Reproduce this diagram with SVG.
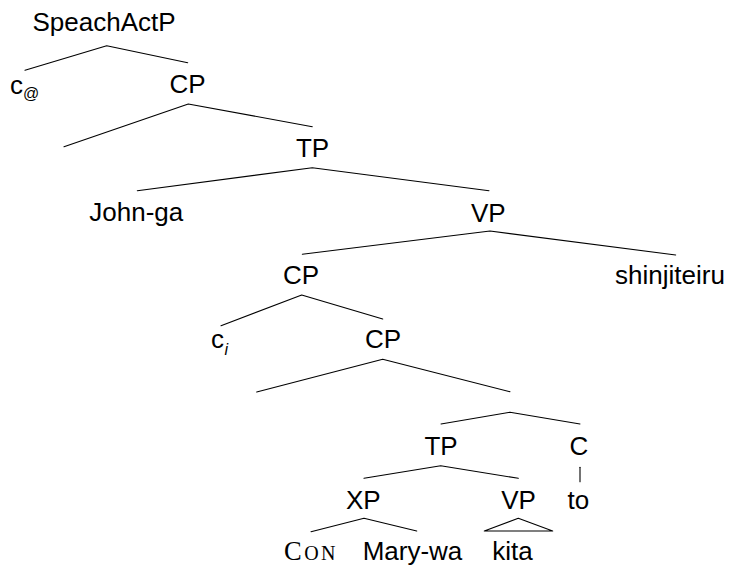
<svg xmlns="http://www.w3.org/2000/svg" width="737" height="566" viewBox="0 0 737 566">
<style>
.t{font-family:"Liberation Sans",Arial,sans-serif;font-size:26px;fill:#000;text-anchor:middle}
.s{text-anchor:start}
.sub{font-size:16px}
.e{stroke:#000;stroke-width:1.1;fill:none;stroke-linecap:round;stroke-linejoin:round}
.sc{font-family:"Liberation Serif","Times New Roman",serif;fill:#000;text-anchor:middle}
</style>
<rect width="737" height="566" fill="#fff"/>
<g id="edges" class="e">
<path d="M106.7 45.7L25 70.3M106.7 45.7L187.7 62.7"/>
<path d="M188.3 104L64 146.7M188.3 104L312.3 126.7"/>
<path d="M312.3 167.7L137.3 190.7M312.3 167.7L489 190.7"/>
<path d="M490 231L302.3 254.3M490 231L675.7 255"/>
<path d="M301.7 295L221 325.7M301.7 295L382.7 319"/>
<path d="M382.7 359.3L256.7 392M382.7 359.3L510 391.7"/>
<path d="M510 412.3L441 424M510 412.3L580 424"/>
<path d="M440.7 465.7L364 478.3M440.7 465.7L518.3 478.3"/>
<path d="M580 467.3L580 481.7"/>
<path d="M364 518.3L311 531.7M364 518.3L416.7 531"/>
<path d="M518.3 518.3L484.3 531L552.7 531Z"/>
</g>
<g id="n-speachactp"><text class="t" x="104" y="30.5">SpeachActP</text></g>
<g id="n-c-at"><text class="t s" x="10" y="94">c<tspan class="sub" dy="4.5">@</tspan></text></g>
<g id="n-cp1"><text class="t" x="187.5" y="93.3">CP</text></g>
<g id="n-tp1"><text class="t" x="312.5" y="157.3">TP</text></g>
<g id="n-john"><text class="t" x="136.3" y="220.7">John-ga</text></g>
<g id="n-vp1"><text class="t" x="488.3" y="221.7">VP</text></g>
<g id="n-cp2"><text class="t" x="301" y="284.3">CP</text></g>
<g id="n-shinjiteiru"><text class="t" x="670" y="284">shinjiteiru</text></g>
<g id="n-ci"><text class="t s" x="211" y="348.3">c<tspan class="sub" font-style="italic" dx="0.5" dy="6.5">i</tspan></text></g>
<g id="n-cp3"><text class="t" x="383" y="348.3">CP</text></g>
<g id="n-tp2"><text class="t" x="441" y="455">TP</text></g>
<g id="n-c"><text class="t" x="579" y="455">C</text></g>
<g id="n-xp"><text class="t" x="363.3" y="509.3">XP</text></g>
<g id="n-vp2"><text class="t" x="518.5" y="509.3">VP</text></g>
<g id="n-to"><text class="t" x="578.3" y="509.3">to</text></g>
<g id="n-con"><text class="sc" x="311" y="560" letter-spacing="2.5"><tspan font-size="26.5">C</tspan><tspan font-size="20">ON</tspan></text></g>
<g id="n-marywa"><text class="t" x="412.5" y="559.5">Mary-wa</text></g>
<g id="n-kita"><text class="t" x="512.5" y="559.5">kita</text></g>
</svg>
